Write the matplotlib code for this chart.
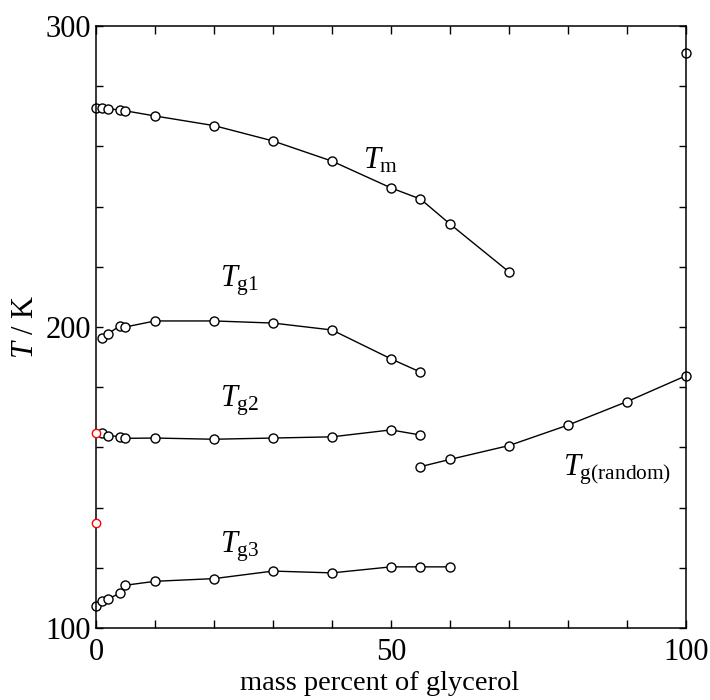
import matplotlib
matplotlib.use("Agg")
import matplotlib.pyplot as plt
from matplotlib.ticker import MultipleLocator

plt.rcParams['font.family'] = ['Liberation Serif', 'DejaVu Serif']
plt.rcParams['mathtext.fontset'] = 'custom'
plt.rcParams['mathtext.rm'] = 'Liberation Serif'
plt.rcParams['mathtext.it'] = 'Liberation Serif:italic'

# data (mass % glycerol, T in K)
tm_x = [0, 1, 2, 4, 5, 10, 20, 30, 40, 50, 55, 60, 70]
tm_y = [272.9, 272.9, 272.5, 272.1, 271.8, 270.1, 266.9, 261.8, 255.1, 246.2, 242.5, 234.2, 218.3]
tm_pure_x = [100]
tm_pure_y = [291]

tg1_x = [1, 2, 4, 5, 10, 20, 30, 40, 50, 55]
tg1_y = [196.5, 197.7, 200.3, 200.0, 202.0, 202.0, 201.3, 199.0, 189.4, 185.0]

tg2_x = [1, 2, 4, 5, 10, 20, 30, 40, 50, 55]
tg2_y = [164.9, 163.9, 163.6, 163.0, 163.1, 162.7, 163.1, 163.5, 165.8, 164.1]

tg3_x = [0, 1, 2, 4, 5, 10, 20, 30, 40, 50, 55, 60]
tg3_y = [107.3, 109.0, 109.6, 111.5, 114.2, 115.5, 116.4, 118.9, 118.3, 120.3, 120.3, 120.3]

tgr_x = [55, 60, 70, 80, 90, 100]
tgr_y = [153.6, 156.0, 160.6, 167.4, 175.2, 183.8]

red_x = [0, 0]
red_y = [164.9, 135.0]

fig = plt.figure(figsize=(7.1, 7.0), dpi=100)
ax = fig.add_axes([0.1352, 0.1029, 0.831, 0.86])

mk = dict(color='black', lw=1.0, marker='o', ms=6.5, mfc='white', mec='black', mew=1.0)
ax.plot(tm_x, tm_y, **mk)
ax.plot(tm_pure_x, tm_pure_y, **mk)
ax.plot(tg1_x, tg1_y, **mk)
ax.plot(tg2_x, tg2_y, **mk)
ax.plot(tg3_x, tg3_y, **mk)
ax.plot(tgr_x, tgr_y, **mk)
ax.plot(red_x, red_y, ls='none', marker='o', ms=6, mfc='white', mec='red', mew=1.0, zorder=5)

ax.set_xlim(0, 100)
ax.set_ylim(100, 300)
ax.xaxis.set_major_locator(MultipleLocator(50))
ax.xaxis.set_minor_locator(MultipleLocator(10))
ax.yaxis.set_major_locator(MultipleLocator(100))
ax.yaxis.set_minor_locator(MultipleLocator(20))
ax.tick_params(which='both', direction='in', top=True, right=True, labelsize=22, width=1)
ax.tick_params(axis='x', which='both', length=6, pad=7)
ax.tick_params(axis='y', which='both', length=5, pad=3.5)
for s in ax.spines.values():
    s.set_linewidth(1.1)
for m in ax.get_lines():
    m.set_clip_on(False)

ax.set_xlabel('mass percent of glycerol', fontsize=20.5)
ax.xaxis.set_label_coords(0.48, -0.071)
ax.set_ylabel(r'$T$ / K', fontsize=22, labelpad=4)

fs = 22
ax.text(45.2, 252.5, r'$T_{\rm m}$', fontsize=fs, va='baseline')
ax.text(21, 213.5, r'$T_{\rm g1}$', fontsize=fs, va='baseline')
ax.text(21, 173.5, r'$T_{\rm g2}$', fontsize=fs, va='baseline')
ax.text(21, 125, r'$T_{\rm g3}$', fontsize=fs, va='baseline')
ax.text(79.2, 150.5, r'$T_{\rm g(random)}$', fontsize=fs, va='baseline')

fig.savefig('out.png', dpi=100)
